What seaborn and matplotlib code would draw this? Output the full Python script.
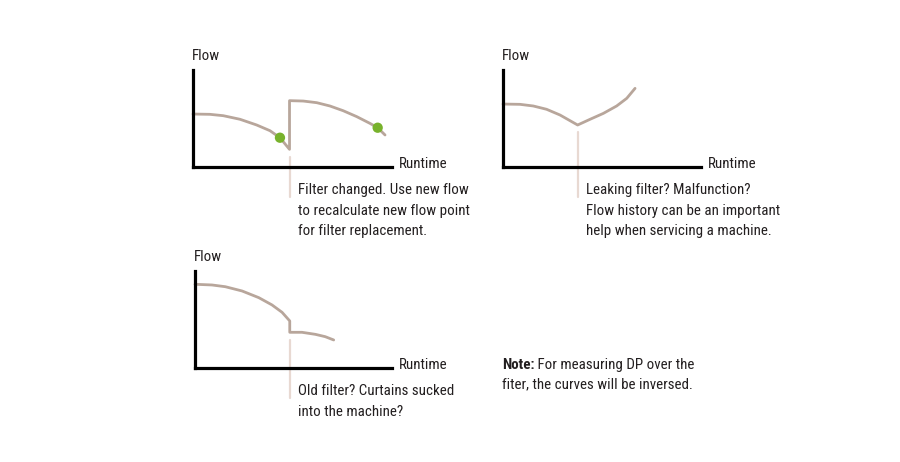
import matplotlib
matplotlib.use("Agg")
import matplotlib.pyplot as plt
from matplotlib import font_manager
import seaborn as sns
import pandas as pd

# ==========================
# Data (runtime 0-100, flow 0-100 per panel)
# ==========================
# Panel 1: filter changed
p1_runtime = [0, 8.5, 15.2, 23.6, 32, 38.7, 43.7, 48.5, 48.5, 55.4, 62.2, 68.8, 75.5, 82.3, 88.9, 92.8, 96.5]
p1_flow = [54.6, 54.3, 52.9, 49.2, 43.3, 37.4, 30.2, 18.2, 68.4, 68, 66.3, 62.9, 58, 51.9, 45, 40.5, 33]
p1_dots_runtime = [43.7, 92.8]
p1_dots_flow = [30.2, 40.5]
p1_event = 48.5
p1_note = "Filter changed. Use new flow\nto recalculate new flow point\nfor filter replacement."

# Panel 2: leaking filter
p2_runtime = [0, 8.6, 15.3, 22, 28.8, 33.8, 37.7, 44, 50.7, 57.4, 62.5, 66.7]
p2_flow = [64.9, 64.6, 62.9, 59.5, 53.6, 47.8, 43.3, 49.2, 55.3, 62.9, 70.8, 81.1]
p2_event = 37.7
p2_note = "Leaking filter? Malfunction?\nFlow history can be an important\nhelp when servicing a machine."

# Panel 3: old filter
p3_runtime = [0, 8.6, 15.4, 23.9, 32.4, 39.1, 44.2, 48.1, 48.1, 54.3, 61.1, 66.1, 70.4]
p3_flow = [86.3, 85.6, 83.8, 79.4, 72.5, 65, 57.4, 48.5, 36.8, 36.8, 34.7, 32.3, 28.9]
p3_event = 48.1
p3_note = "Old filter? Curtains sucked\ninto the machine?"

note_bold = "Note:"
note_rest = " For measuring DP over the"
note_line2 = "fiter, the curves will be inversed."

# ==========================
# Style
# ==========================
sns.set_style("white")
installed = {f.name for f in font_manager.fontManager.ttflist}
narrow = [n for n in installed if "Narrow" in n or "Condensed" in n]
candidates = ["Liberation Sans Narrow", "Roboto Condensed", "DejaVu Sans Condensed",
              "Open Sans Condensed"] + sorted(narrow)
family = next((c for c in candidates if c in installed), None)
if family is None:
    family = "Roboto"
    FS = 10
else:
    FS = 10.8
plt.rcParams["font.family"] = [family, "DejaVu Sans"]

CURVE = "#b8a69b"
EVENT = "#e8d9d2"
DOT = "#78b22c"
TXT = "#231f20"

W, H = 900, 462
fig = plt.figure(figsize=(W / 100, H / 100), dpi=100)


def make_axes(left, top, right, bottom):
    ax = fig.add_axes([left / W, 1 - bottom / H, (right - left) / W, (bottom - top) / H])
    ax.set_xlim(0, 100)
    ax.set_ylim(0, 100)
    ax.set_xticks([])
    ax.set_yticks([])
    sns.despine(ax=ax)
    for s in ["left", "bottom"]:
        ax.spines[s].set_linewidth(2.3)
        ax.spines[s].set_color("black")
        ax.spines[s].set_zorder(5)
        ax.spines[s].set_capstyle("projecting")
    ax.patch.set_alpha(0)
    return ax


def draw_panel(ax, runtime, flow, event, note, event_top, note_x):
    df = pd.DataFrame({"Runtime": runtime, "Flow": flow})
    sns.lineplot(data=df, x="Runtime", y="Flow", sort=False, estimator=None,
                 color=CURVE, linewidth=2.0, ax=ax, clip_on=False)
    ax.plot([event, event], [event_top, -31], color=EVENT, linewidth=1.6,
            clip_on=False, zorder=1)
    ax.set_xlabel("")
    ax.set_ylabel("")
    ax.text(note_x, -16.5, note, fontsize=FS, color=TXT, va="top", ha="left",
            linespacing=1.6)
    ax.text(103.5, 3, "Runtime", fontsize=FS, color=TXT, va="center", ha="left")
    ax.text(-0.5, 114, "Flow", fontsize=FS, color=TXT, va="center", ha="left")


ax1 = make_axes(193, 70, 392, 167)
draw_panel(ax1, p1_runtime, p1_flow, p1_event, p1_note, 10, 52.8)
sns.scatterplot(x=p1_dots_runtime, y=p1_dots_flow, color=DOT, s=55,
                edgecolor="none", ax=ax1, zorder=4, clip_on=False)

ax2 = make_axes(503, 70, 701, 167)
draw_panel(ax2, p2_runtime, p2_flow, p2_event, p2_note, 36, 42)

ax3 = make_axes(195, 271, 392, 368)
draw_panel(ax3, p3_runtime, p3_flow, p3_event, p3_note, 28.9, 52.3)

# Note text with bold lead-in
t = fig.text(502 / W, 1 - 365 / H, note_bold, fontsize=FS, fontweight="bold",
             color=TXT, va="center", ha="left")
fig.canvas.draw()
bb = t.get_window_extent(fig.canvas.get_renderer())
fig.text(bb.x1 / W, 1 - 365 / H, note_rest, fontsize=FS, color=TXT,
         va="center", ha="left")
fig.text(502 / W, 1 - 384 / H, note_line2, fontsize=FS, color=TXT,
         va="center", ha="left")

fig.savefig("out.png", dpi=100)
